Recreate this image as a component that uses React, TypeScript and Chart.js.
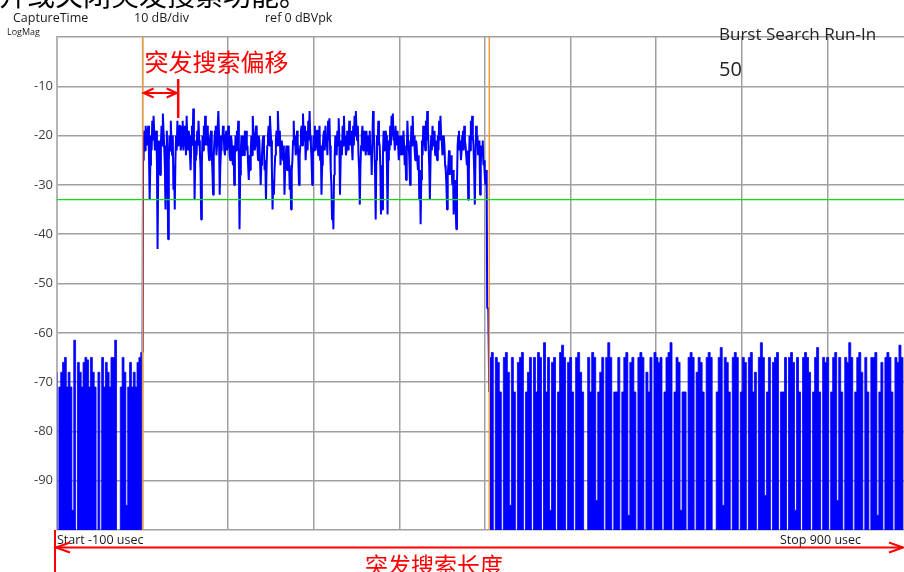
import React, { useEffect, useRef } from 'react';
import { Chart, registerables } from 'chart.js';

Chart.register(...registerables);

// ---- axis ranges / ticks ----
const timeStart = -100; // usec
const timeStop = 900; // usec
const yTop = 0; // dBVpk
const yBottom = -100;
const yTickValues = [-10, -20, -30, -40, -50, -60, -70, -80, -90];
const yTickLabels = ['-10', '-20', '-30', '-40', '-50', '-60', '-70', '-80', '-90'];

// ---- markers ----
const burstMarkerTimes = [0, 405]; // orange burst gate lines (usec)
const thresholdLevel = -33; // green line (dB)
const searchOffsetTime = 41; // end of "突发搜索偏移" arrow (usec)

// ---- trace data (dB); -110 = trace below the bottom of the screen ----
// pre-burst noise samples (-100 .. 0 usec)
const leftNoise = [
  -68, -110, -71, -68, -66, -65, -71, -68, -71, -96,
  -61.5, -110, -66, -68, -71, -66, -65, -65.5, -71, -65,
  -68, -71, -110, -68, -110, -65, -71, -66, -68, -71,
  -65, -65, -61.5, -110, -110, -71, -65, -68, -95, -71,
  -66, -71, -68, -71, -66, -65, -64,
];
// rising edge at 0 usec
const riseEdge = [-64];
// burst samples, first half (0.5 .. ~200 usec)
const burstFirstHalf = [
  -25, -21, -19, -23, -18, -21, -22, -19, -18, -24, -33, -26, -20, -23, -17, -21, -16, -20, -23, -20,
  -19, -25, -43, -27, -21, -24, -28, -22, -18, -22, -15.5, -19, -22, -26, -35, -24, -19, -27, -41, -25,
  -20, -23, -17, -21, -24, -20, -31, -26, -35, -25, -20, -23, -17, -22, -21, -18, -18, -23, -22, -19,
  -17, -23, -21, -18, -19, -24, -16, -21, -23, -19, -20, -24, -27, -22, -18, -22, -14.5, -20, -33, -25,
  -21, -24, -19, -22, -17, -21, -23, -27, -37, -26, -20, -23, -18, -22, -16, -20, -22, -18, -19, -23,
  -25, -21, -20, -19, -24, -27, -32, -24, -21, -19, -18, -24, -22, -18, -15, -20, -32, -26, -23, -20,
  -21, -18, -20, -23, -24, -20, -19, -23, -22, -18, -19, -24, -25, -20, -21, -24, -26, -22, -30, -24,
  -20, -23, -19, -22, -17, -25, -39, -28, -23, -20, -24, -21, -20, -24, -19, -22, -19, -23, -22, -26,
  -29, -24, -27, -23, -20, -24, -16, -19, -20, -23, -22, -18, -19, -22, -25, -20, -21, -25, -30, -26,
  -24, -21, -20, -23, -27, -25, -33, -26, -22, -20, -18, -22, -16, -19, -21, -27, -35, -29, -32, -27,
  -24, -21, -19, -22, -15, -19, -22, -19, -26, -23, -21, -24, -25, -22, -32, -27, -24, -22, -27, -24,
  -22, -26, -31, -28, -35, -27, -25, -21, -17, -22, -20, -24, -23, -19, -21, -25, -30, -24, -22, -19,
  -18, -22, -15.5, -20, -21, -18, -25, -22, -19, -23, -17, -21, -15, -20, -22, -25, -30, -24, -20, -23,
];
// burst samples, second half (~200 .. 402 usec)
const burstSecondHalf = [
  -18, -23, -22, -19, -19, -24, -21, -18, -25, -22, -32, -26, -22, -20, -19, -23, -18, -22, -21, -24,
  -17, -21, -16.5, -22, -27, -30, -37, -33, -39, -28, -24, -20, -22, -24, -19, -22, -16.5, -21, -32, -25,
  -21, -24, -18, -22, -16, -21, -20, -24, -23, -19, -19, -23, -17, -21, -22, -19, -22, -25, -18, -22,
  -16, -20, -15, -19, -21, -18, -24, -27, -34, -26, -22, -20, -18, -23, -21, -19, -22, -24, -19, -23,
  -20, -24, -21, -19, -24, -22, -28, -21, -15, -19, -22, -27, -37, -25, -20, -22, -17, -21, -22, -26,
  -36, -27, -35, -24, -19, -23, -22, -19, -20, -26, -36, -25, -21, -23, -18, -22, -16, -20, -15.5, -21,
  -20, -23, -18, -21, -22, -19, -22, -25, -20, -23, -24, -20, -21, -24, -19, -22, -26, -23, -29, -24,
  -17, -21, -22, -25, -30, -23, -18, -22, -16, -21, -20, -23, -25, -21, -22, -25, -27, -24, -33, -27,
  -38, -29, -21, -24, -18, -22, -20, -23, -17, -21, -15, -19, -22, -26, -33, -25, -20, -23, -18, -22,
  -21, -19, -24, -21, -22, -25, -20, -23, -17, -21, -16, -20, -21, -24, -23, -20, -22, -26, -27, -30,
  -35, -28, -26, -23, -28, -25, -24, -27, -30, -27, -36, -29, -31, -34, -39, -30, -22, -20, -19, -23,
  -21, -25, -23, -20, -19, -23, -18, -21, -22, -24, -26, -23, -33, -27, -20, -23, -17, -21, -16, -20,
  -22, -27, -34, -25, -18, -22, -20, -24, -24, -21, -32, -26, -22, -24, -21, -26, -25, -28, -30, -27,
  -31,
];
// falling edge (402.5 .. 405 usec)
const fallEdge = [-55, -55, -72];
// post-burst noise samples (405 .. 900 usec)
const rightNoise = [
  -72, -65, -64, -110, -65, -66, -72, -110, -65, -64, -68, -95, -65, -72, -110, -66, -65, -64, -110, -72,
  -68, -65, -110, -65, -72, -64, -65, -110, -62, -72, -65, -96, -66, -65, -110, -72, -64, -62.5, -65, -110,
  -66, -65, -72, -110, -65, -64, -68, -72, -110, -110, -65, -72, -64, -65, -94, -72, -68, -65, -110, -65,
  -62, -65, -110, -72, -72, -65, -110, -72, -65, -64, -97, -66, -65, -72, -110, -65, -64, -65, -110, -68,
  -72, -65, -110, -64, -65, -66, -65, -110, -72, -65, -64, -62, -110, -72, -65, -66, -96, -72, -72, -110,
  -65, -64, -65, -110, -68, -65, -66, -72, -110, -65, -64, -65, -110, -110, -72, -65, -63, -95, -65, -66,
  -72, -110, -65, -64, -65, -110, -72, -65, -66, -110, -65, -64, -72, -68, -110, -65, -62, -65, -93, -72,
  -65, -110, -66, -65, -64, -110, -72, -72, -65, -110, -65, -64, -66, -96, -65, -72, -110, -65, -64, -65,
  -68, -110, -72, -65, -63, -72, -110, -65, -66, -65, -110, -72, -65, -64, -94, -65, -72, -110, -65, -66,
  -62, -65, -110, -72, -65, -64, -68, -110, -65, -72, -110, -65, -65, -64, -97, -72, -66, -110, -65, -64,
  -65, -72, -110, -65, -66, -62.5, -65, -110, -72, -65, -64, -110,
];

type Pt = { x: number; y: number };

// place equally spaced samples between two sample times
function sampled(values: number[], t0: number, t1: number): Pt[] {
  const dt = values.length > 1 ? (t1 - t0) / (values.length - 1) : 0;
  return values.map((v, i) => ({ x: t0 + i * dt, y: v }));
}

const leftNoisePoints = sampled(leftNoise, -100, 0);
const burstPoints = [
  ...sampled(riseEdge, 0, 0),
  ...sampled([...burstFirstHalf, ...burstSecondHalf], 0.5, 402),
  ...sampled(fallEdge, 402.6, 405),
];
const rightNoisePoints = sampled(rightNoise, 405, 900);

const RED = '#ff0000';
const BLUE = '#0000ff';
const SANS = '"Open Sans", "DejaVu Sans", sans-serif';
const CJK = '"Noto Sans CJK SC", sans-serif';

function arrowHead(ctx: CanvasRenderingContext2D, tipX: number, y: number, dir: number, len: number, half: number) {
  ctx.beginPath();
  ctx.moveTo(tipX + dir * len, y - half);
  ctx.lineTo(tipX, y);
  ctx.lineTo(tipX + dir * len, y + half);
  ctx.stroke();
}

const overlayPlugin = {
  id: 'overlay',
  afterDraw(chart: any) {
    const ctx: CanvasRenderingContext2D = chart.ctx;
    const xs = chart.scales.x;
    const area = chart.chartArea;
    ctx.save();

    // top cut-off document line
    ctx.fillStyle = '#000';
    ctx.textBaseline = 'alphabetic';
    ctx.textAlign = 'left';
    ctx.font = `28px ${CJK}`;
    ctx.fillText('开或关闭突发搜索功能。', -1, 6);

    // header
    ctx.fillStyle = '#1a1a1a';
    ctx.textBaseline = 'middle';
    ctx.font = `12.5px ${SANS}`;
    ctx.fillText('CaptureTime', 13, 18);
    ctx.fillText('10 dB/div', 134, 18);
    ctx.fillText('ref 0 dBVpk', 265, 18);
    ctx.font = `9px ${SANS}`;
    ctx.fillText('LogMag', 7, 32);

    // Burst search run-in
    ctx.fillStyle = '#222';
    ctx.font = `17px ${SANS}`;
    ctx.fillText('Burst Search Run-In', 719, 35);
    ctx.font = `20px ${SANS}`;
    ctx.fillText('50', 719, 70);

    // start / stop
    ctx.fillStyle = '#1a1a1a';
    ctx.font = `12.5px ${SANS}`;
    ctx.fillText('Start -100 usec', area.left, area.bottom + 10);
    ctx.fillText('Stop 900 usec', 780, area.bottom + 10);

    // red annotation: search offset
    ctx.strokeStyle = RED;
    ctx.lineWidth = 2;
    const x0 = xs.getPixelForValue(burstMarkerTimes[0]);
    const x1 = xs.getPixelForValue(searchOffsetTime);
    const ay = 93;
    ctx.beginPath();
    ctx.moveTo(x0 + 1, ay);
    ctx.lineTo(x1, ay);
    ctx.stroke();
    arrowHead(ctx, x0 + 1, ay, 1, 10, 4.5);
    arrowHead(ctx, x1 - 1, ay, -1, 10, 4.5);
    ctx.lineWidth = 2.5;
    ctx.beginPath();
    ctx.moveTo(x1 + 0.5, 79);
    ctx.lineTo(x1 + 0.5, 118);
    ctx.stroke();
    ctx.fillStyle = RED;
    ctx.font = `24px ${CJK}`;
    ctx.textBaseline = 'middle';
    ctx.fillText('突发搜索偏移', x0 + 2, 62);

    // red annotation: search length
    const lx = area.left - 2;
    const ly = area.bottom + 17.5;
    ctx.lineWidth = 2;
    ctx.beginPath();
    ctx.moveTo(lx, area.bottom);
    ctx.lineTo(lx, chart.height);
    ctx.stroke();
    ctx.beginPath();
    ctx.moveTo(lx, ly);
    ctx.lineTo(903, ly);
    ctx.stroke();
    arrowHead(ctx, lx + 1, ly, 1, 14, 5);
    arrowHead(ctx, 903, ly, -1, 14, 5);
    ctx.font = `23px ${CJK}`;
    ctx.fillText('突发搜索长度', 365, 565);

    ctx.restore();
  },
};

export default function App() {
  const ref = useRef<HTMLCanvasElement>(null);
  useEffect(() => {
    const canvas = ref.current;
    if (!canvas) return;
    const gridColor = '#a0a0a0';
    const noiseStyle = {
      borderColor: BLUE,
      backgroundColor: BLUE,
      borderWidth: 0.8,
      pointRadius: 0,
      stepped: 'after',
      fill: 'start',
      order: 2,
    };
    const chart = new Chart(canvas, {
      type: 'line',
      data: {
        datasets: [
          {
            label: 'threshold',
            data: [
              { x: timeStart, y: thresholdLevel },
              { x: timeStop, y: thresholdLevel },
            ],
            borderColor: '#10dd10',
            borderWidth: 1.3,
            pointRadius: 0,
            order: 1,
          },
          ...burstMarkerTimes.map((t) => ({
            label: 'gate',
            data: [
              { x: t, y: yTop },
              { x: t, y: yBottom },
            ],
            borderColor: '#f39a3a',
            borderWidth: 1.5,
            pointRadius: 0,
            order: 1,
          })),
          { label: 'noise-pre', data: leftNoisePoints, ...noiseStyle },
          {
            label: 'burst',
            data: burstPoints,
            borderColor: BLUE,
            borderWidth: 2,
            pointRadius: 0,
            tension: 0,
            borderJoinStyle: 'bevel',
            fill: false,
            order: 2,
          },
          { label: 'noise-post', data: rightNoisePoints, ...noiseStyle },
        ] as any,
      },
      options: {
        animation: false,
        responsive: false,
        maintainAspectRatio: false,
        devicePixelRatio: 1,
        parsing: false as any,
        layout: { padding: { left: 0, right: 7, top: 37, bottom: 0 } },
        plugins: {
          legend: { display: false },
          tooltip: { enabled: false },
          title: { display: false },
        },
        scales: {
          x: {
            type: 'linear',
            min: timeStart,
            max: timeStop,
            ticks: { display: false, stepSize: 100 },
            grid: { color: gridColor, lineWidth: 1.5, drawTicks: false },
            border: { display: false },
            afterFit: (s: any) => {
              s.height = 42;
            },
          },
          y: {
            type: 'linear',
            min: yBottom,
            max: yTop,
            ticks: {
              stepSize: 10,
              padding: 4,
              color: '#404040',
              font: { family: 'Open Sans', size: 13 },
              callback: (v: any) => {
                const i = yTickValues.indexOf(Number(v));
                return i >= 0 ? yTickLabels[i] : '';
              },
            },
            grid: { color: gridColor, lineWidth: 1.5, drawTicks: false },
            border: { color: '#b4b4b4', width: 2 },
            afterFit: (s: any) => {
              s.width = 57;
            },
          },
        },
      } as any,
      plugins: [overlayPlugin],
    });
    return () => chart.destroy();
  }, []);
  return (
    <div
      style={{
        position: 'fixed',
        left: 0,
        top: 0,
        width: 904,
        height: 572,
        overflow: 'hidden',
        background: '#fff',
      }}
    >
      <canvas ref={ref} width={920} height={572} style={{ display: 'block', width: 920, height: 572 }} />
    </div>
  );
}
